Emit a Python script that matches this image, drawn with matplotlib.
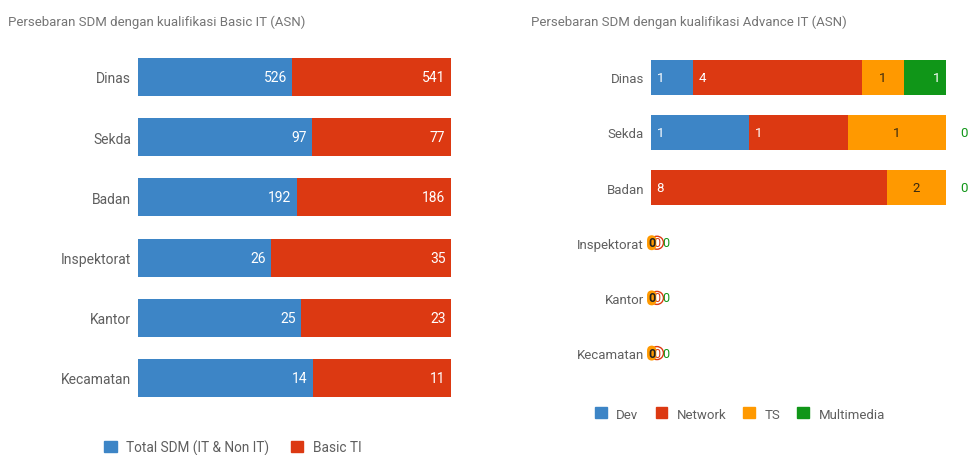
import numpy as np
import matplotlib.pyplot as plt
from matplotlib.patches import Patch

plt.rcParams['font.family'] = ['Roboto', 'DejaVu Sans']

# data - basic IT
units_basic = ['Dinas', 'Sekda', 'Badan', 'Inspektorat', 'Kantor', 'Kecamatan']
total_sdm = [526, 97, 192, 26, 25, 14]
basic_ti = [541, 77, 186, 35, 23, 11]

# data - advance IT
units_adv = ['Dinas', 'Sekda', 'Badan', 'Inspektorat', 'Kantor', 'Kecamatan']
dev = [1, 1, 0, 0, 0, 0]
network = [4, 1, 8, 0, 0, 0]
ts = [1, 1, 2, 0, 0, 0]
multimedia = [1, 0, 0, 0, 0, 0]

BLUE = '#3d85c6'
RED = '#dc3912'
ORANGE = '#ff9900'
GREEN = '#109618'
GREY = '#5f5f5f'

fig = plt.figure(figsize=(9.68, 4.56), dpi=100)

# ---------- left chart ----------
ax1 = fig.add_axes([0.1426, 0.103, 0.3233, 0.792])
y = np.arange(len(units_basic))
tot = np.array(total_sdm) + np.array(basic_ti)
f1 = np.array(total_sdm) / tot
f2 = np.array(basic_ti) / tot
ax1.barh(y, f1, height=0.63, color=BLUE)
ax1.barh(y, f2, left=f1, height=0.63, color=RED)
for i in range(len(y)):
    ax1.annotate(str(total_sdm[i]), (f1[i], y[i]), xytext=(-4, 0), textcoords='offset points',
                 ha='right', va='center', color='white', fontsize=10)
    ax1.annotate(str(basic_ti[i]), (1, y[i]), xytext=(-4, 0), textcoords='offset points',
                 ha='right', va='center', color='white', fontsize=10)
ax1.set_xlim(0, 1)
ax1.set_ylim(len(y) - 0.5, -0.5)
ax1.set_yticks(y)
ax1.set_yticklabels(units_basic, fontsize=10, color=GREY)
ax1.tick_params(axis='y', length=0, pad=5)
ax1.set_xticks([])
for s in ax1.spines.values():
    s.set_visible(False)

fig.text(8 / 968, 1 - 22 / 456, 'Persebaran SDM dengan kualifikasi Basic IT (ASN)',
         fontsize=9.5, color='#757575', va='center')
fig.legend(handles=[Patch(color=BLUE, label='Total SDM (IT & Non IT)'),
                    Patch(color=RED, label='Basic TI')],
           loc='center', bbox_to_anchor=(233 / 968, 1 - 448 / 456), ncol=2, frameon=False,
           handlelength=0.9, handleheight=0.9, handletextpad=0.7, columnspacing=1.6,
           fontsize=9.8, labelcolor=GREY)

# ---------- right chart ----------
ax2 = fig.add_axes([0.6725, 0.163, 0.3048, 0.726])
y2 = np.arange(len(units_adv))
series = [np.array(dev), np.array(network), np.array(ts), np.array(multimedia)]
colors = [BLUE, RED, ORANGE, GREEN]
tot2 = sum(series).astype(float)
safe = np.where(tot2 == 0, 1, tot2)
left = np.zeros(len(y2))
for k, (vals, c) in enumerate(zip(series, colors)):
    frac = vals / safe
    ax2.barh(y2, frac, left=left, height=0.64, color=c)
    for i in range(len(y2)):
        if tot2[i] == 0 or vals[i] == 0:
            continue
        if k < 2:
            ax2.annotate(str(vals[i]), (left[i], y2[i]), xytext=(4, 0), textcoords='offset points',
                         ha='left', va='center', color='white', fontsize=9.5)
        elif k == 2:
            ax2.text(left[i] + frac[i] / 2, y2[i], str(vals[i]), ha='center', va='center',
                     color='#3a2a10', fontsize=9.5)
        else:
            ax2.annotate(str(vals[i]), (left[i] + frac[i], y2[i]), xytext=(-4, 0),
                         textcoords='offset points', ha='right', va='center', color='white',
                         fontsize=9.5)
    left = left + frac

# zero labels
for i in range(len(y2)):
    if tot2[i] > 0 and multimedia[i] == 0:
        ax2.annotate('0', (1, y2[i]), xytext=(10, 0), textcoords='offset points',
                     ha='left', va='center', color=GREEN, fontsize=9.5)
    if tot2[i] == 0:
        ax2.annotate('0', (0, y2[i]), xytext=(4.3, 0), textcoords='offset points',
                     ha='center', va='center', color=RED, fontsize=9,
                     bbox=dict(boxstyle='circle,pad=0.0', fc='none', ec=RED, lw=1.0))
        ax2.annotate('0', (0, y2[i]), xytext=(0.5, 0), textcoords='offset points',
                     ha='center', va='center', color='#222222', fontsize=9, fontweight='bold',
                     bbox=dict(boxstyle='round,pad=0.08,rounding_size=0.4', fc=ORANGE, ec='none'))
        ax2.annotate('0', (0, y2[i]), xytext=(10.8, 0), textcoords='offset points',
                     ha='center', va='center', color=GREEN, fontsize=9)

ax2.set_xlim(0, 1)
ax2.set_ylim(len(y2) - 0.5, -0.5)
ax2.set_yticks(y2)
ax2.set_yticklabels(units_adv, fontsize=9.5, color=GREY)
ax2.tick_params(axis='y', length=0, pad=5)
ax2.set_xticks([])
for s in ax2.spines.values():
    s.set_visible(False)

fig.text(531 / 968, 1 - 22 / 456, 'Persebaran SDM dengan kualifikasi Advance IT (ASN)',
         fontsize=9.5, color='#757575', va='center')
fig.legend(handles=[Patch(color=c, label=l) for c, l in
                    zip(colors, ['Dev', 'Network', 'TS', 'Multimedia'])],
           loc='center', bbox_to_anchor=(740 / 968, 1 - 415 / 456), ncol=4, frameon=False,
           handlelength=0.9, handleheight=0.9, handletextpad=0.7, columnspacing=1.3,
           fontsize=9.5, labelcolor=GREY)

fig.savefig('out.png', dpi=100)
